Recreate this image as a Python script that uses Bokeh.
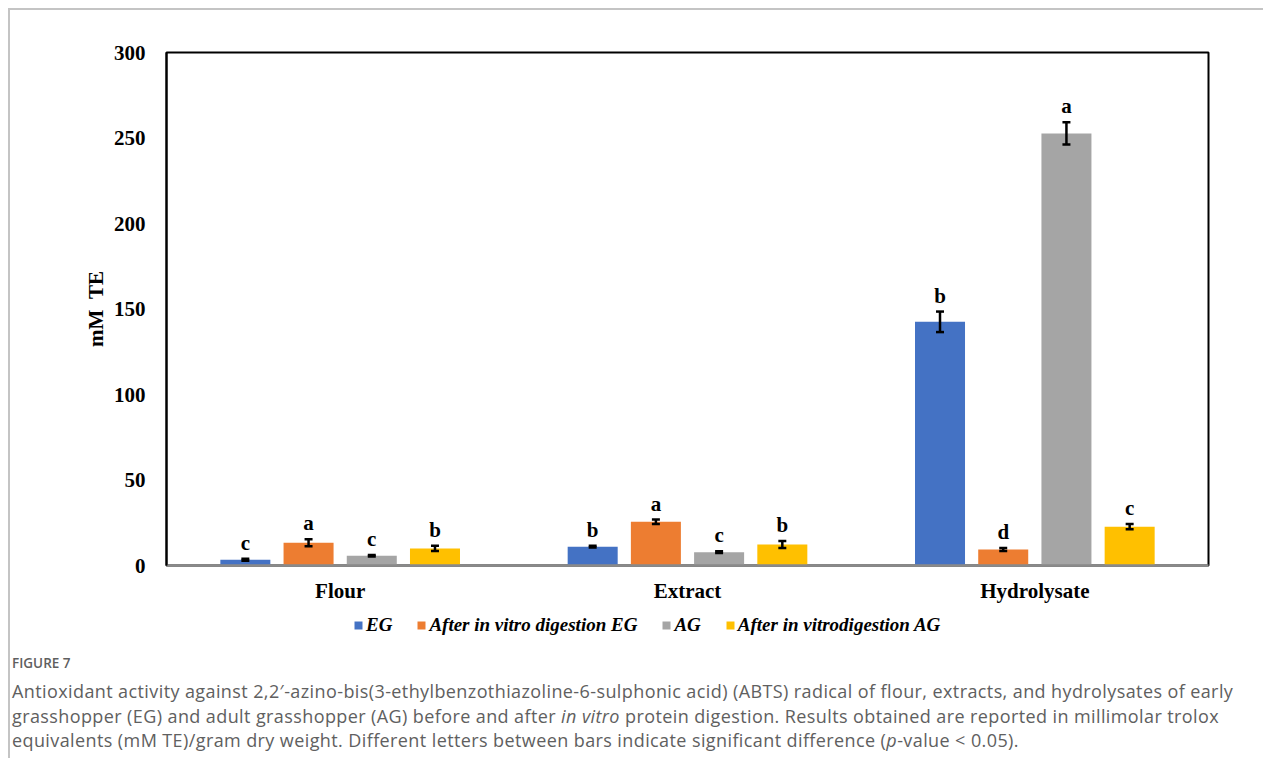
from bokeh.plotting import figure
from bokeh.models import (ColumnDataSource, FactorRange, Range1d, Legend, LegendItem,
                          FixedTicker, Div, LabelSet)
from bokeh.transform import dodge
from bokeh.layouts import column
from bokeh.embed import file_html
from bokeh.resources import INLINE

categories = ["Flour", "Extract", "Hydrolysate"]
series_names = ["EG", "After in vitro digestion EG", "AG", "After in vitrodigestion AG"]
colors = ["#4472C4", "#ED7D31", "#A5A5A5", "#FFC000"]

eg = [3.4, 11.0, 142.5]
eg_digested = [13.3, 25.6, 9.4]
ag = [5.7, 7.8, 252.7]
ag_digested = [10.0, 12.3, 22.7]

err_eg = [0.6, 0.5, 6.0]
err_eg_digested = [2.1, 1.3, 0.9]
err_ag = [0.5, 0.5, 6.5]
err_ag_digested = [1.5, 2.0, 1.5]

letters_eg = ["c", "b", "b"]
letters_eg_digested = ["a", "a", "d"]
letters_ag = ["c", "c", "a"]
letters_ag_digested = ["b", "b", "c"]

y_ticks = [0, 50, 100, 150, 200, 250, 300]

values = [eg, eg_digested, ag, ag_digested]
errors = [err_eg, err_eg_digested, err_ag, err_ag_digested]
letters = [letters_eg, letters_eg_digested, letters_ag, letters_ag_digested]
offsets = [-0.273, -0.091, 0.091, 0.273]
bar_w = 0.144
cap = 0.0115

BORDER = "2px solid #c4c4c4"

# ---------------- main chart ----------------
p = figure(x_range=FactorRange(*categories, range_padding=0), y_range=Range1d(0, 300),
           frame_width=1040, frame_height=511, output_backend="svg", toolbar_location=None,
           min_border_left=156, min_border_right=57, min_border_top=42, min_border_bottom=40)
p.margin = (8, 0, 0, 8)
p.background_fill_color = "white"
p.border_fill_color = "white"
p.outline_line_color = "black"
p.outline_line_width = 2
p.xgrid.grid_line_color = None
p.ygrid.grid_line_color = None
p.styles = {"border-top": BORDER, "border-left": BORDER}

sources = []
for name, col, vals, errs, lets, off in zip(series_names, colors, values, errors, letters, offsets):
    src = ColumnDataSource(dict(cat=categories, val=vals,
                                upper=[v + e for v, e in zip(vals, errs)],
                                lower=[v - e for v, e in zip(vals, errs)],
                                letter=lets))
    sources.append(src)
    xs = dodge("cat", off, range=p.x_range)
    p.vbar(x=xs, top="val", width=bar_w, source=src, fill_color=col, line_color=None)
    p.segment(x0=xs, x1=xs, y0="lower", y1="upper", source=src, line_color="black", line_width=2.5)
    for yk in ["lower", "upper"]:
        p.segment(x0=dodge("cat", off - cap, range=p.x_range), x1=dodge("cat", off + cap, range=p.x_range),
                  y0=yk, y1=yk, source=src, line_color="black", line_width=2.5)
    p.add_layout(LabelSet(x=xs, y="upper", text="letter", source=src,
                          text_align="center", text_baseline="alphabetic", y_offset=9,
                          text_font="Liberation Serif", text_font_style="bold",
                          text_font_size="21px", text_color="black"))

p.yaxis.ticker = FixedTicker(ticks=y_ticks)
p.yaxis.axis_line_color = "black"
p.yaxis.axis_line_width = 2
p.yaxis.major_tick_line_color = None
p.yaxis.minor_tick_line_color = None
p.yaxis.major_label_standoff = 15
p.yaxis.major_label_text_font = "Liberation Serif"
p.yaxis.major_label_text_font_style = "bold"
p.yaxis.major_label_text_font_size = "21px"
p.yaxis.major_label_text_color = "black"
p.yaxis.axis_label = "mM\u2002TE"
p.yaxis.axis_label_text_font = "Liberation Serif"
p.yaxis.axis_label_text_font_style = "bold"
p.yaxis.axis_label_text_font_size = "21px"
p.yaxis.axis_label_text_color = "black"
p.yaxis.axis_label_standoff = 3

p.xaxis.axis_line_color = "#8a8a8a"
p.xaxis.axis_line_width = 2.5
p.xaxis.major_tick_line_color = None
p.xaxis.minor_tick_line_color = None
p.xaxis.major_label_standoff = 7
p.xaxis.major_label_text_font = "Liberation Serif"
p.xaxis.major_label_text_font_style = "bold"
p.xaxis.major_label_text_font_size = "21px"
p.xaxis.major_label_text_color = "black"

# ---------------- legend strip (series kept out of view, legend only) ----------------
lg = figure(width=1263, height=39, x_range=FactorRange(*categories), y_range=Range1d(-1000, -999),
            output_backend="svg", toolbar_location=None,
            x_axis_location=None, y_axis_location=None,
            min_border_left=0, min_border_right=0, min_border_top=0, min_border_bottom=0)
lg.margin = (0, 0, 0, 8)
lg.grid.visible = False
lg.outline_line_color = None
lg.border_fill_color = "white"
lg.styles = {"border-left": BORDER}
items = []
for name, col, src in zip(series_names, colors, sources):
    r = lg.vbar(x="cat", top="val", width=0, source=src, fill_color=col, line_color=None)
    items.append(LegendItem(label=name, renderers=[r], index=0))
legend = Legend(items=items, orientation="horizontal", location=(187, 6),
                label_text_font="Liberation Serif", label_text_font_style="bold italic",
                label_text_font_size="19px", label_text_color="black",
                glyph_width=10, glyph_height=10, label_standoff=3, spacing=24,
                padding=4, margin=0, border_line_color=None, background_fill_alpha=0)
lg.add_layout(legend, "center")

# ---------------- caption ----------------
caption_html = (
    '<div style="font-family:\'Open Sans\', sans-serif; font-weight:600; color:#5f5f5f; font-size:13.5px; '
    'line-height:20px; padding-top:11px; padding-bottom:6px; padding-left:2px;">FIGURE 7</div>'
    '<div style="font-family:\'Open Sans\', sans-serif; color:#606060; font-size:18px; line-height:24.5px; '
    'letter-spacing:0.4px; white-space:nowrap; padding-left:2px;">'
    'Antioxidant activity against 2,2\u2032-azino-bis(3-ethylbenzothiazoline-6-sulphonic acid) (ABTS) radical of flour, extracts, and hydrolysates of early<br>'
    'grasshopper (EG) and adult grasshopper (AG) before and after <i>in vitro</i> protein digestion. Results obtained are reported in millimolar trolox<br>'
    'equivalents (mM TE)/gram dry weight. Different letters between bars indicate significant difference (<i>p</i>-value &lt; 0.05).'
    '</div>'
)
cap_div = Div(text=caption_html, width=1262, height=116, margin=(0, 0, 0, 8),
              styles={"border-left": BORDER})

layout = column(p, lg, cap_div, spacing=0)

open("out.html", "w").write(file_html(layout, INLINE))
